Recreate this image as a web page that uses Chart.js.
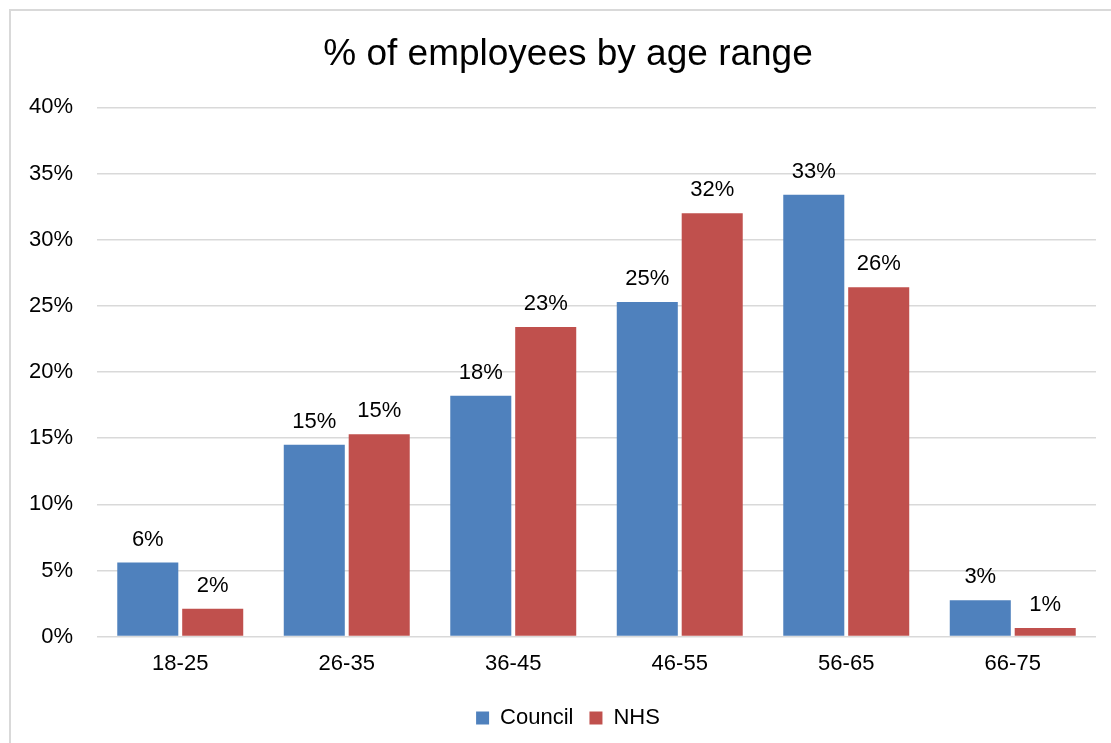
<!DOCTYPE html>
<html>
<head>
<meta charset="utf-8">
<script src="https://cdn.jsdelivr.net/npm/chart.js@4/dist/chart.umd.min.js"></script>
<style>
  html, body { margin: 0; padding: 0; background: #fff; overflow: hidden; }
  #wrap { width: 1111px; height: 743px; position: relative; }
</style>
</head>
<body>
<div id="wrap"><canvas id="chart"></canvas></div>
<script>
const categories = ["18-25", "26-35", "36-45", "46-55", "56-65", "66-75"];
const council = [5.6, 14.5, 18.2, 25.3, 33.4, 2.75];
const nhs = [2.1, 15.3, 23.4, 32.0, 26.4, 0.65];
const yTicks = [0, 5, 10, 15, 20, 25, 30, 35, 40];

const FONT = "'Liberation Sans', Arial, sans-serif";

// light grey frame round the chart, like the office export
const framePlugin = {
    id: "frame",
    beforeDraw(chart) {
        const ctx = chart.ctx;
        ctx.save();
        ctx.fillStyle = "#ffffff";
        ctx.fillRect(0, 0, chart.width, chart.height);
        ctx.strokeStyle = "#d9d9d9";
        ctx.lineWidth = 2;
        ctx.strokeRect(10, 10, chart.width + 20, chart.height + 20);
        ctx.restore();
    }
};

// value labels above each bar
const valueLabels = {
    id: "valueLabels",
    afterDatasetsDraw(chart) {
        const ctx = chart.ctx;
        ctx.save();
        ctx.font = "22px " + FONT;
        ctx.fillStyle = "#000000";
        ctx.textAlign = "center";
        ctx.textBaseline = "alphabetic";
        chart.data.datasets.forEach((ds, i) => {
            chart.getDatasetMeta(i).data.forEach((bar, j) => {
                ctx.fillText(Math.round(ds.data[j]) + "%", bar.x, bar.y - 17);
            });
        });
        ctx.restore();
    }
};

new Chart(document.getElementById("chart").getContext("2d"), {
    type: "bar",
    data: {
        labels: categories,
        datasets: [{
            label: "Council",
            data: council,
            backgroundColor: "#4F81BD",
            categoryPercentage: 0.78,
            barPercentage: 0.94,
        }, {
            label: "NHS",
            data: nhs,
            backgroundColor: "#C0504D",
            categoryPercentage: 0.78,
            barPercentage: 0.94,
        }]
    },
    options: {
        responsive: true,
        maintainAspectRatio: false,
        animation: false,
        layout: {
            // frame runs past the right edge, so title and legend sit right of centre
            padding: { left: 40, right: 15, top: 0, bottom: 4 }
        },
        plugins: {
            title: {
                display: true,
                text: "% of employees by age range",
                color: "#000000",
                font: { family: FONT, size: 37, weight: "normal" },
                padding: { top: 33, bottom: 30 }
            },
            legend: {
                position: "bottom",
                labels: {
                    color: "#000000",
                    font: { family: FONT, size: 22 },
                    boxWidth: 13,
                    boxHeight: 13,
                    padding: 16
                }
            },
            tooltip: { enabled: false }
        },
        scales: {
            x: {
                grid: { display: false, drawTicks: false },
                border: { display: false },
                ticks: {
                    color: "#000000",
                    font: { family: FONT, size: 22 },
                    padding: 14
                }
            },
            y: {
                min: 0,
                max: 40,
                afterFit(scale) { scale.width = 57; },
                // labels reach left of the padded box, don't clip them
                afterUpdate(scale) { scale._computeLabelArea = () => undefined; },
                afterBuildTicks(scale) { scale.ticks = yTicks.map(v => ({ value: v })); },
                grid: { color: "#d9d9d9", lineWidth: 1.5, drawTicks: false },
                border: { display: false },
                ticks: {
                    color: "#000000",
                    font: { family: FONT, size: 22 },
                    padding: 24,
                    callback: v => v + "%"
                }
            }
        }
    },
    plugins: [framePlugin, valueLabels]
});
</script>
</body>
</html>
